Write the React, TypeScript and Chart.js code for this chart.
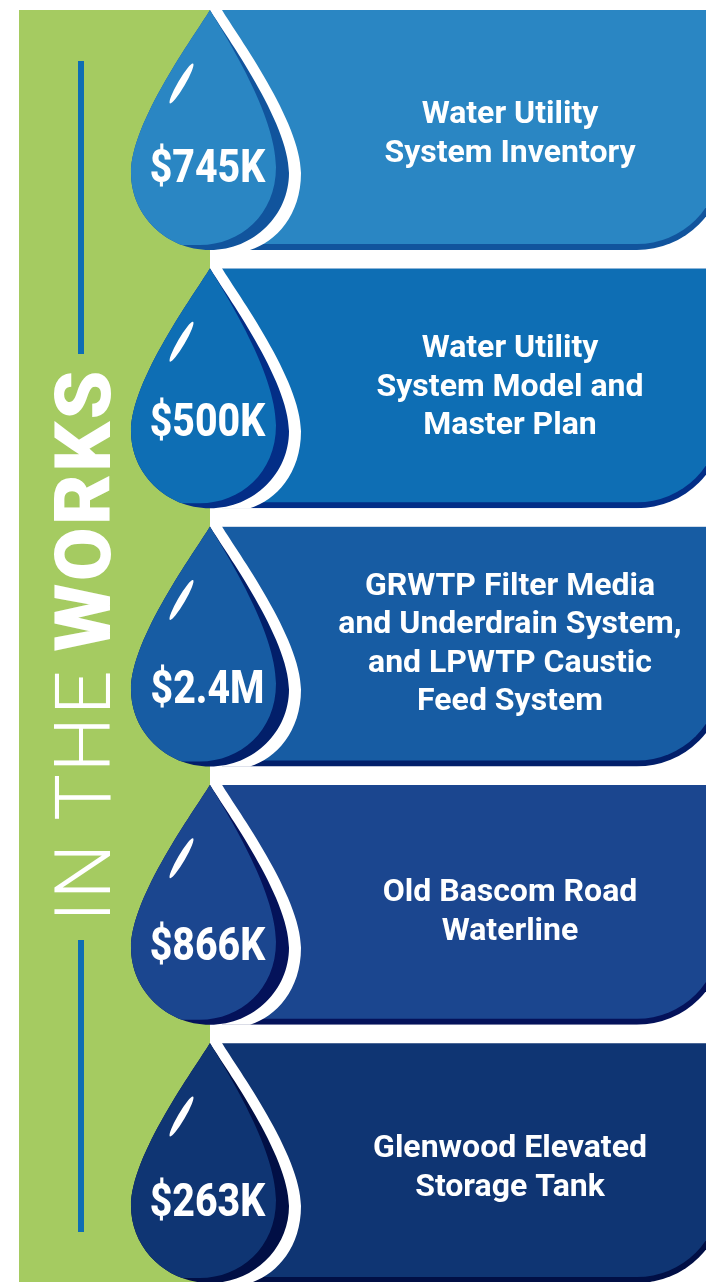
import React, { useEffect, useRef } from "react";
import { Chart, registerables } from "chart.js";

Chart.register(...registerables);

// ---- data ----
const categories = ["Inventory", "Master Plan", "Filter Media", "Bascom Road", "Elevated Tank"];
const costLabels = ["$745K", "$500K", "$2.4M", "$866K", "$263K"];
const projectLines = [
  ["Water Utility", "System Inventory"],
  ["Water Utility", "System Model and", "Master Plan"],
  ["GRWTP Filter Media", "and Underdrain System,", "and LPWTP Caustic", "Feed System"],
  ["Old Bascom Road", "Waterline"],
  ["Glenwood Elevated", "Storage Tank"],
];
const faceReach = [1.029, 1.029, 1.029, 1.029, 1.029];
const edgeReach = [1.039, 1.039, 1.039, 1.039, 1.039];
const titleLight = "IN THE";
const titleBold = "WORKS";

// ---- styles ----
const faceColors = ["#2A86C3", "#0E6EB4", "#175CA3", "#1B468F", "#0F3573"];
const edgeColors = ["#11549D", "#032E87", "#021F6A", "#04125A", "#010F45"];
const GREEN = "#A5CB61";
const RULE = "#0E6EB4";
const textShift = [4.5, -0.3, -2, 7.8, 5.5];
const costShift = [40.5, 36, 45, 43, 41.5];
const LINE_H = 38.5;

function dropPath(ctx: CanvasRenderingContext2D, top: number) {
  const cx = 210;
  ctx.beginPath();
  ctx.moveTo(cx, top);
  ctx.bezierCurveTo(cx + 15, top + 25, cx + 79, top + 112, cx + 79, top + 163);
  ctx.bezierCurveTo(cx + 79, top + 205, cx + 44, top + 240, cx, top + 240);
  ctx.bezierCurveTo(cx - 44, top + 240, cx - 79, top + 205, cx - 79, top + 163);
  ctx.bezierCurveTo(cx - 79, top + 112, cx - 15, top + 25, cx, top);
  ctx.closePath();
}

const infographic = {
  id: "infographic",
  beforeDatasetsDraw(chart: any) {
    const ctx = chart.ctx as CanvasRenderingContext2D;
    ctx.save();
    ctx.fillStyle = GREEN;
    ctx.fillRect(19, 10, 191, 1272);
    ctx.fillStyle = RULE;
    ctx.fillRect(78, 61, 6, 293);
    ctx.fillRect(78, 940, 6, 292);
    ctx.fillStyle = "#fff";
    ctx.textBaseline = "alphabetic";
    ctx.textAlign = "left";
    ctx.translate(109.5, 922);
    ctx.rotate(-Math.PI / 2);
    ctx.font = "300 78px Roboto";
    (ctx as any).letterSpacing = "2px";
    ctx.fillText(titleLight, 0, 0);
    ctx.font = "900 78px Roboto";
    (ctx as any).letterSpacing = "2.4px";
    ctx.fillText(titleBold, 270.5, 0);
    (ctx as any).letterSpacing = "0px";
    ctx.restore();
  },
  beforeDatasetDraw(chart: any, args: any) {
    if (args.index === 0) {
      chart.ctx.save();
      chart.ctx.translate(0, -3);
    }
  },
  afterDatasetDraw(chart: any, args: any) {
    if (args.index === 0) chart.ctx.restore();
  },
  afterDatasetsDraw(chart: any) {
    const ctx = chart.ctx as CanvasRenderingContext2D;
    const yScale = chart.scales.y;
    categories.forEach((_, i) => {
      const mid = yScale.getPixelForValue(i);
      const top = mid - 120;
      const cx = 210;
      ctx.save();
      // white halo
      ctx.fillStyle = "#fff";
      ctx.beginPath();
      ctx.moveTo(cx, top);
      ctx.lineTo(cx + 12, top);
      ctx.bezierCurveTo(cx + 27, top + 25, cx + 91, top + 112, cx + 91, top + 163);
      ctx.bezierCurveTo(cx + 91, top + 205, cx + 66, top + 232, cx + 40, top + 240);
      ctx.lineTo(cx, top + 240);
      ctx.closePath();
      ctx.fill();
      // gutter between rows
      ctx.fillRect(cx, top + 240, 496, 18.5);
      // dark drop
      ctx.fillStyle = edgeColors[i];
      dropPath(ctx, top);
      ctx.fill();
      // face clipped to drop
      ctx.save();
      dropPath(ctx, top);
      ctx.clip();
      ctx.fillStyle = faceColors[i];
      ctx.beginPath();
      ctx.moveTo(cx, top);
      ctx.bezierCurveTo(cx + 15, top + 25, cx + 66, top + 105, cx + 66, top + 157);
      ctx.bezierCurveTo(cx + 66, top + 205, cx + 30, top + 235, cx - 10, top + 235);
      ctx.lineTo(cx - 30, top + 235);
      ctx.lineTo(cx - 100, top + 235);
      ctx.lineTo(cx - 100, top);
      ctx.closePath();
      ctx.fill();
      ctx.restore();
      // highlight
      ctx.fillStyle = "#fff";
      ctx.beginPath();
      ctx.ellipse(181.5, top + 73.5, 23, 3.6, Math.atan2(-39, 22.7), 0, Math.PI * 2);
      ctx.fill();
      // cost
      ctx.translate(207.5, mid + costShift[i]);
      ctx.scale(0.835, 1);
      ctx.font = "800 47px Roboto";
      ctx.textAlign = "center";
      ctx.textBaseline = "middle";
      ctx.fillText(costLabels[i], 0, 0);
      ctx.restore();

      // project text
      ctx.save();
      ctx.fillStyle = "#fff";
      ctx.font = "700 32px Roboto";
      ctx.textAlign = "center";
      ctx.textBaseline = "middle";
      const lines = projectLines[i];
      const start = mid + textShift[i] - ((lines.length - 1) * LINE_H) / 2;
      lines.forEach((ln, k) => ctx.fillText(ln, 510, start + k * LINE_H));
      ctx.restore();
    });
  },
};

export default function App() {
  const ref = useRef<HTMLCanvasElement | null>(null);
  useEffect(() => {
    if (!ref.current) return;
    const chart = new Chart(ref.current, {
      type: "bar",
      data: {
        labels: categories,
        datasets: [
          {
            label: "Face",
            data: faceReach,
            backgroundColor: faceColors,
            barThickness: 234,
            maxBarThickness: 234,
            borderRadius: { topLeft: 0, topRight: 0, bottomLeft: 0, bottomRight: 83 },
            borderSkipped: false,
            inflateAmount: 0,
            grouped: false,
            clip: false,
          },
          {
            label: "Edge",
            data: edgeReach,
            backgroundColor: edgeColors,
            barThickness: 240,
            maxBarThickness: 240,
            borderRadius: { topLeft: 0, topRight: 0, bottomLeft: 0, bottomRight: 88 },
            borderSkipped: false,
            inflateAmount: 0,
            grouped: false,
            clip: false,
          },
        ],
      },
      options: {
        indexAxis: "y",
        animation: false,
        responsive: false,
        layout: { padding: { left: 222, right: 0, top: 130, bottom: 119 } },
        plugins: { legend: { display: false }, tooltip: { enabled: false } },
        scales: {
          x: { display: false, min: 0, max: 1 },
          y: { display: false, offset: false, grid: { display: false } },
        },
      } as any,
      plugins: [infographic],
    } as any);
    return () => chart.destroy();
  }, []);
  return (
    <div style={{ position: "absolute", left: 0, top: 0, width: 706, height: 1282, background: "#fff" }}>
      <canvas ref={ref} width={706} height={1282} style={{ display: "block" }} />
    </div>
  );
}
